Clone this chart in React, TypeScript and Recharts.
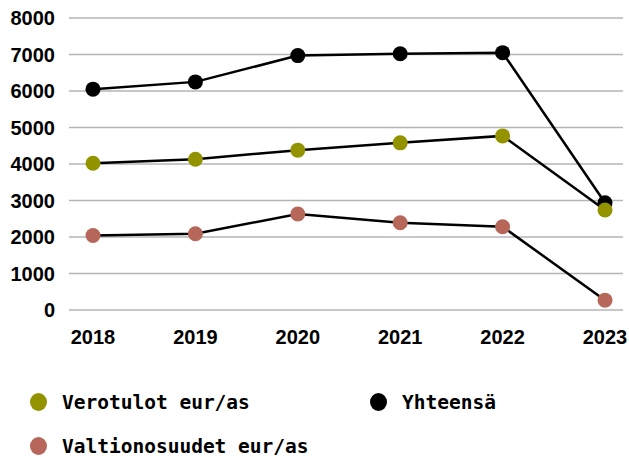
import { CartesianGrid, Line, LineChart, XAxis, YAxis } from "recharts";

const years = ["2018", "2019", "2020", "2021", "2022", "2023"];
const verotulot = [4020, 4130, 4380, 4580, 4770, 2740];
const valtionosuudet = [2040, 2090, 2630, 2390, 2280, 270];
const yhteensa = [6050, 6250, 6970, 7020, 7050, 2940];
const yTicks = [0, 1000, 2000, 3000, 4000, 5000, 6000, 7000, 8000];

const data = years.map((year, i) => ({
  year,
  verotulot: verotulot[i],
  valtionosuudet: valtionosuudet[i],
  yhteensa: yhteensa[i],
}));

const series = [
  { key: "valtionosuudet", name: "Valtionosuudet eur/as", color: "#b7665a" },
  { key: "yhteensa", name: "Yhteensä", color: "#000000" },
  { key: "verotulot", name: "Verotulot eur/as", color: "#939300" },
];

const legendOrder = ["verotulot", "yhteensa", "valtionosuudet"];

const axisFont = '"Liberation Sans", Arial, sans-serif';
const legendFont = '"DejaVu Sans Mono", monospace';

const tickStyle = {
  fill: "#000",
  fontFamily: axisFont,
  fontWeight: 700,
  fontSize: 20,
};

export default function App() {
  return (
    <div
      style={{
        position: "absolute",
        left: 0,
        top: 0,
        width: 629,
        height: 457,
        background: "#fff",
      }}
    >
      <LineChart
        width={629}
        height={350}
        data={data}
        margin={{ top: 18, right: 6, bottom: 0, left: 0 }}
      >
        <CartesianGrid vertical={false} stroke="#b5b5b5" strokeWidth={1.6} />
        <XAxis
          dataKey="year"
          axisLine={false}
          tickLine={false}
          tickSize={0}
          tickMargin={20}
          height={40}
          padding={{ left: 24, right: 18 }}
          tick={tickStyle}
        />
        <YAxis
          domain={[0, 8000]}
          ticks={yTicks}
          width={69}
          axisLine={false}
          tickLine={false}
          tickSize={0}
          tickMargin={14}
          tick={tickStyle}
        />
        {series.map((s) => (
          <Line
            key={s.key}
            type="linear"
            dataKey={s.key}
            name={s.name}
            stroke="#000"
            strokeWidth={2.5}
            dot={{ r: 7.5, fill: s.color, stroke: "none" }}
            activeDot={false}
            isAnimationActive={false}
          />
        ))}
      </LineChart>
      <div
        style={{
          position: "absolute",
          left: 30,
          top: 380,
          display: "grid",
          gridTemplateColumns: "340px 220px",
          gridAutoRows: "44px",
          fontFamily: legendFont,
          fontWeight: 700,
          fontSize: 19.5,
          color: "#000",
        }}
      >
        {legendOrder.map((k) => {
          const s = series.find((x) => x.key === k)!;
          return (
            <div
              key={k}
              style={{ display: "flex", alignItems: "center", height: 44 }}
            >
              <span
                style={{
                  display: "inline-block",
                  width: 17,
                  height: 18,
                  borderRadius: "50%",
                  background: s.color,
                  marginRight: 15,
                }}
              />
              <span>{s.name}</span>
            </div>
          );
        })}
      </div>
    </div>
  );
}
